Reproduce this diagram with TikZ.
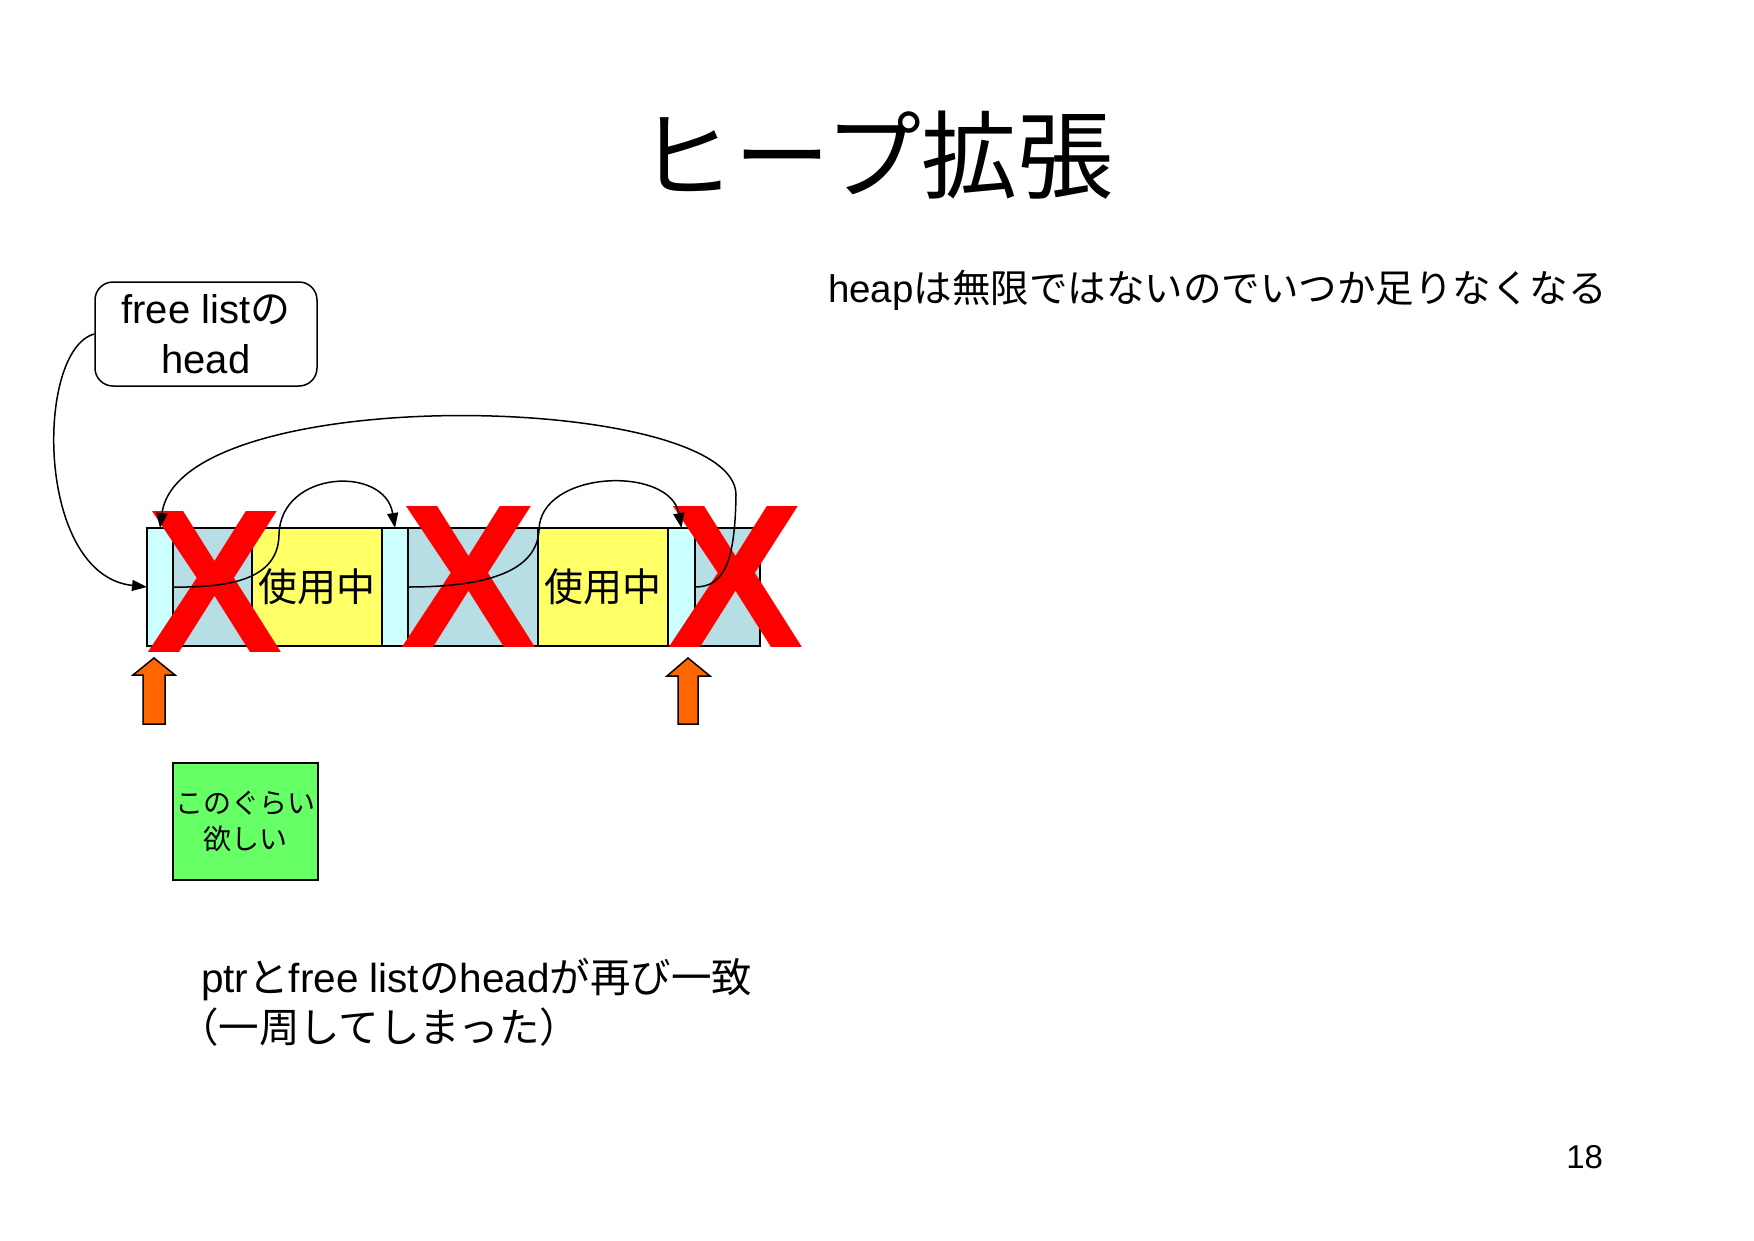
\documentclass[tikz,border=0pt]{standalone}
\usepackage{fontspec}
\setmainfont{Liberation Sans}
\newfontfamily\jp{Noto Sans CJK JP}
\usetikzlibrary{arrows.meta}
\definecolor{hdrblk}{RGB}{204,255,255}
\definecolor{freeblk}{RGB}{183,222,228}
\definecolor{usedblk}{RGB}{255,255,102}
\definecolor{wantblk}{RGB}{102,255,102}
\definecolor{ptrorange}{RGB}{255,102,0}
\begin{document}
\begin{tikzpicture}[x=1pt,y=-1pt,
  blk/.style={draw=black,line width=1.5pt,inner sep=0pt,outer sep=0pt,minimum height=118pt,anchor=north west},
  link/.style={draw=black,line width=1.5pt,-{Triangle[length=15pt,width=11pt]}},
  bigx/.style={text=red,font=\fontsize{205}{205}\selectfont\bfseries,inner sep=0pt,anchor=base},
  ptrarrow/.style={draw=black,line width=1.5pt,fill=ptrorange,line join=miter},
  txt/.style={inner sep=0pt,outer sep=0pt}]
\useasboundingbox (0,0) rectangle (1754,1240);
\fill[white] (0,0) rectangle (1754,1240);

% title
\node[txt,font=\jp\fontsize{96}{114}\selectfont] (title) at (876,155) {ヒープ拡張};

% side remark
\node[txt,anchor=base west,font=\fontsize{38.5}{46}\selectfont] (remark) at (828,302) {heap{\jp は無限ではないのでいつか足りなくなる}};

% memory blocks
\node[blk,fill=hdrblk,minimum width=26pt] (H1) at (147,528) {};
\node[blk,fill=freeblk,minimum width=79pt] (F1) at (173,528) {};
\node[blk,fill=usedblk,minimum width=130pt] (U1) at (252,528) {};
\node[blk,fill=hdrblk,minimum width=26pt] (H2) at (382,528) {};
\node[blk,fill=freeblk,minimum width=130pt] (F2) at (408,528) {};
\node[blk,fill=usedblk,minimum width=130pt] (U2) at (538,528) {};
\node[blk,fill=hdrblk,minimum width=27pt] (H3) at (668,528) {};
\node[blk,fill=freeblk,minimum width=65pt] (F3) at (695,528) {};
\node[txt,font=\jp\fontsize{39}{46}\selectfont] (U1t) at (U1.center) {使用中};
\node[txt,font=\jp\fontsize{39}{46}\selectfont] (U2t) at (U2.center) {使用中};

% red crosses
\node[bigx] (X1) at (215,652) {X};
\node[bigx] (X2) at (469,647) {X};
\node[bigx] (X3) at (736,647) {X};

% free list head
\node[draw=black,line width=1.5pt,rounded corners=18pt,fill=white,minimum width=222pt,minimum height=104pt,align=center,
      font=\fontsize{40}{50}\selectfont,inner sep=0pt] (head) at (206,334) {free list{\jp の}\\head};

% links
\draw[link] (head.west) .. controls (35,350) and (35,575) .. (H1.west);
\draw[link] (F1.west) .. controls (240,588) and (278,575) .. (279,535)
            .. controls (280,470) and (385,465) .. (H2.north);
\draw[link] (F2.west) .. controls (490,587) and (537,570) .. (539,530)
            .. controls (540,470) and (670,465) .. (H3.north);
\draw[link] (F3.west) .. controls (725,587) and (735,560) .. (736,495)
            .. controls (736,392) and (180,380) .. (H1.north);

% pointer arrows
\draw[ptrarrow] (143,724) -- (143,675) -- (133,675) -- (154,658) -- (175,675) -- (165,675) -- (165,724) -- cycle;
\draw[ptrarrow] (678,724) -- (678,676) -- (667,676) -- (688,658) -- (710,676) -- (698,676) -- (698,724) -- cycle;

% wanted size
\node[draw=black,line width=1.5pt,fill=wantblk,minimum width=145pt,minimum height=117pt,inner sep=0pt,align=center,
      font=\jp\fontsize{28}{36}\selectfont] (want) at (245.5,821.5) {このぐらい\\欲しい};

% bottom remark
\node[txt,anchor=base west,font=\fontsize{40.5}{48}\selectfont] (note1) at (201,992) {ptr{\jp と}free list{\jp の}head{\jp が再び一致}};
\node[txt,anchor=base west,font=\jp\fontsize{40.5}{48}\selectfont] (note2) at (178,1042) {（一周してしまった）};

% page number
\node[txt,anchor=base east,font=\fontsize{33}{40}\selectfont] (pageno) at (1603,1168) {18};
\end{tikzpicture}
\end{document}
